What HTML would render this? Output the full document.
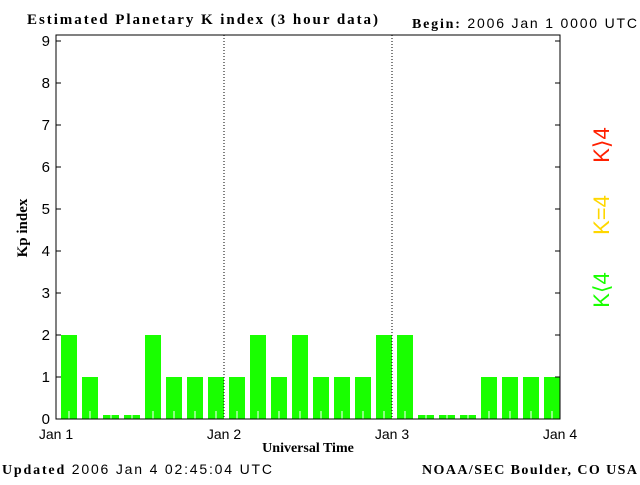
<!DOCTYPE html>
<html><head><meta charset="utf-8"><style>
body{margin:0;background:#fff;width:640px;height:480px;overflow:hidden}
svg text{font-family:"Liberation Sans",sans-serif}
.s{font-family:"Liberation Serif",serif;font-weight:bold}
</style></head><body>
<svg id="c" width="640" height="480">
<text class="s" x="27" y="24" font-size="15" textLength="351" lengthAdjust="spacing">Estimated Planetary K index (3 hour data)</text>
<text x="412" y="28" font-size="14" textLength="225" lengthAdjust="spacing"><tspan class="s">Begin:</tspan> 2006 Jan 1 0000 UTC</text>
<text x="2" y="474" font-size="14" textLength="270" lengthAdjust="spacing"><tspan class="s">Updated</tspan> 2006 Jan  4 02:45:04 UTC</text>
<text class="s" x="422" y="474" font-size="14" textLength="215" lengthAdjust="spacing">NOAA/SEC Boulder, CO USA</text>
<text class="s" x="0" y="0" font-size="15" text-anchor="middle" transform="translate(27,228) rotate(-90)">Kp index</text>
<text class="s" x="308" y="452" font-size="14" text-anchor="middle">Universal Time</text>
<text x="0" y="0" font-size="22" fill="#ff2000" text-anchor="middle" transform="translate(609,145) rotate(-90)">K⟩4</text>
<text x="0" y="0" font-size="22" fill="#ffd700" text-anchor="middle" transform="translate(609,215) rotate(-90)">K=4</text>
<text x="0" y="0" font-size="22" fill="#19ff00" text-anchor="middle" transform="translate(609,290) rotate(-90)">K⟨4</text>
<g id="plot"></g>
</svg>
<script>
const kpValues=[2,1,0,0,2,1,1,1, 1,2,1,2,1,1,1,2, 2,0,0,0,1,1,1,1];
const yTicks=[0,1,2,3,4,5,6,7,8,9];
const dayLabels=["Jan 1","Jan 2","Jan 3","Jan 4"];
const L=56,R=560,T=35,B=419;
const y=v=>B-42*v;
const x=i=>L+(R-L)*i/24;
const NS="http://www.w3.org/2000/svg";
const g=document.getElementById('plot');
function mk(t,a){const e=document.createElementNS(NS,t);for(const k in a)e.setAttribute(k,a[k]);g.appendChild(e);return e;}
kpValues.forEach((v,i)=>{
  const h=Math.max(42*v,4);
  const col=v>4?'#ff2000':(v==4?'#ffd700':'#19ff00');
  const r=mk('rect',{x:x(i)+5,y:B-h,width:16,height:h,fill:col});
  
  
  const w=mk('line',{x1:x(i)+13,x2:x(i)+13,y1:B,y2:B-Math.min(8,h),stroke:'#fff'});
  
  
});
[1,2].forEach(d=>{const l=mk('line',{x1:x(d*8),x2:x(d*8),y1:T,y2:B,stroke:'#000','stroke-dasharray':'1,2'});
  
  });
const f=mk('rect',{x:L,y:T,width:R-L,height:B-T,fill:'none',stroke:'#000','stroke-width':1});


yTicks.forEach(v=>{
  mk('line',{x1:L,x2:L+5,y1:y(v),y2:y(v),stroke:'#000'});
  mk('line',{x1:R,x2:R-5,y1:y(v),y2:y(v),stroke:'#000'});
  const t=mk('text',{x:50,y:y(v)+5,'font-size':15,'text-anchor':'end'});t.textContent=v;
  
  
});
dayLabels.forEach((s,d)=>{
  const t=mk('text',{x:x(d*8),y:439,'font-size':14,'text-anchor':'middle'});t.textContent=s;
  
  
});
</script>
</body></html>
